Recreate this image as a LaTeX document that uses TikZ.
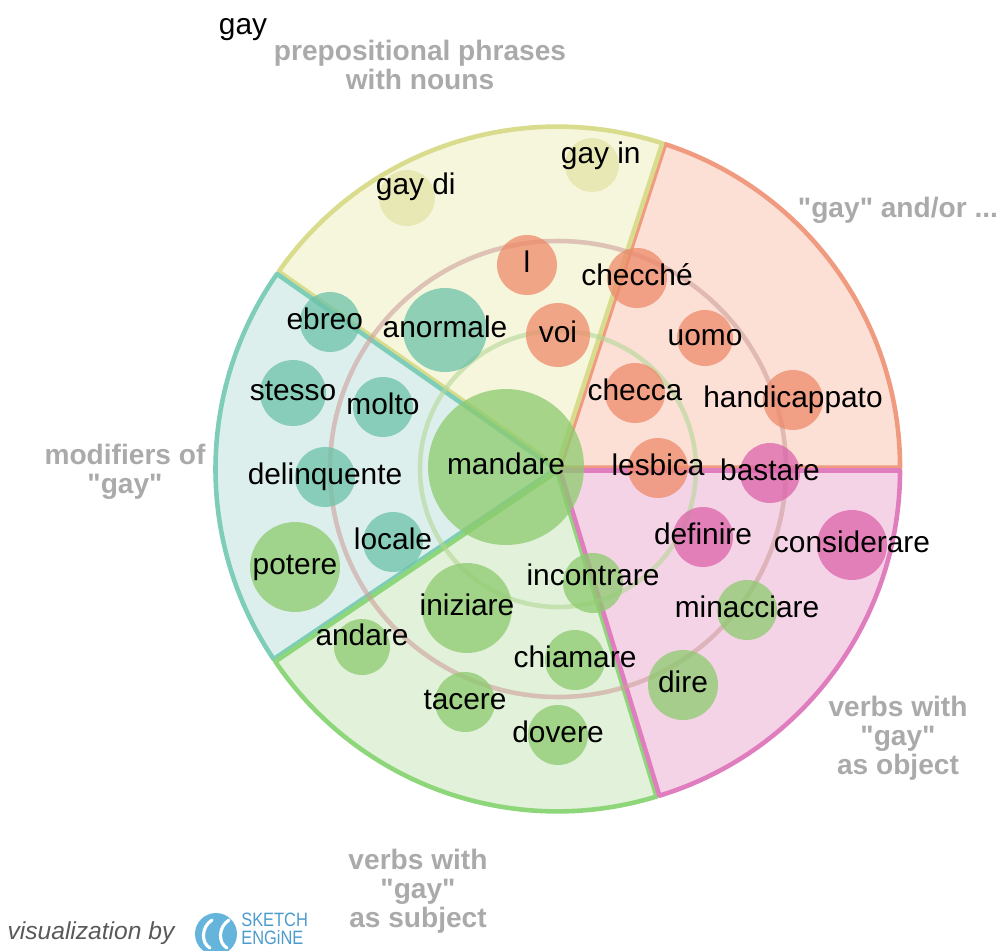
\documentclass[tikz,border=0pt]{standalone}
\usepackage{fontspec}
\setmainfont{Liberation Sans}[Ligatures=TeXOff]
\usetikzlibrary{positioning}

\definecolor{yfill}{RGB}{246,246,220}
\definecolor{yline}{RGB}{216,220,140}
\definecolor{ofill}{RGB}{252,224,214}
\definecolor{oline}{RGB}{240,155,128}
\definecolor{tfill}{RGB}{221,239,236}
\definecolor{tline}{RGB}{125,205,185}
\definecolor{gfill}{RGB}{226,241,217}
\definecolor{gline}{RGB}{142,214,122}
\definecolor{pfill}{RGB}{245,211,230}
\definecolor{pline}{RGB}{224,125,190}
\definecolor{ybub}{RGB}{228,228,168}
\definecolor{obub}{RGB}{238,138,106}
\definecolor{tbub}{RGB}{108,194,168}
\definecolor{gbub}{RGB}{140,203,110}
\definecolor{pbub}{RGB}{220,100,170}
\definecolor{outring}{RGB}{205,160,155}
\definecolor{inring}{RGB}{180,215,150}
\definecolor{catgray}{RGB}{170,170,170}
\definecolor{logoblue}{RGB}{100,180,220}
\definecolor{logotext}{RGB}{75,155,205}

\begin{document}
\begin{tikzpicture}[x=0.02cm, y=0.02cm,
  sector/.style={line width=2.6pt, line join=round},
  ring/.style={line width=2.6pt, opacity=.6},
  bubble/.style={circle, inner sep=0pt, opacity=.75},
  word/.style={font=\fontsize{17}{20}\selectfont, text height=12pt, text depth=3.5pt, inner sep=0pt},
  group/.style={font=\fontsize{16}{16.5}\selectfont\bfseries, text=catgray, align=center, inner sep=0pt}
]
\useasboundingbox (0,0) rectangle (999,-950);

% sectors and rings
\begin{scope}[shift={(558,-469)}]
\draw[sector, fill=ofill, draw=oline, shift={(36:2.5)}] (0,0) -- (0:340) arc[start angle=0, end angle=72, radius=340] -- cycle;
\draw[sector, fill=yfill, draw=yline, shift={(108:2.5)}] (0,0) -- (72:340) arc[start angle=72, end angle=145, radius=340] -- cycle;
\draw[sector, fill=tfill, draw=tline, shift={(180:2.5)}] (0,0) -- (145:340) arc[start angle=145, end angle=214, radius=340] -- cycle;
\draw[sector, fill=gfill, draw=gline, shift={(251:2.5)}] (0,0) -- (214:340) arc[start angle=214, end angle=287, radius=340] -- cycle;
\draw[sector, fill=pfill, draw=pline, shift={(323:2.5)}] (0,0) -- (287:340) arc[start angle=287, end angle=360, radius=340] -- cycle;
\draw[ring, draw=outring] (0,0) circle (228);
\draw[ring, draw=inring] (0,0) circle (138);
\end{scope}

% bubbles
\node[bubble, fill=ybub, minimum size=1.12cm] (b-gaydi) at (407,-198) {};
\node[bubble, fill=ybub, minimum size=1.08cm] (b-gayin) at (592,-165) {};
\node[bubble, fill=obub, minimum size=1.2cm] (b-l) at (527,-265) {};
\node[bubble, fill=obub, minimum size=1.2cm] (b-checche) at (637,-278) {};
\node[bubble, fill=obub, minimum size=1.28cm] (b-voi) at (558,-335) {};
\node[bubble, fill=obub, minimum size=1.12cm] (b-uomo) at (705,-338) {};
\node[bubble, fill=obub, minimum size=1.2cm] (b-checca) at (635,-393) {};
\node[bubble, fill=obub, minimum size=1.2cm] (b-handicappato) at (793,-400) {};
\node[bubble, fill=obub, minimum size=1.2cm] (b-lesbica) at (658,-468) {};
\node[bubble, fill=pbub, minimum size=1.2cm] (b-bastare) at (770,-473) {};
\node[bubble, fill=pbub, minimum size=1.2cm] (b-definire) at (703,-537) {};
\node[bubble, fill=pbub, minimum size=1.4cm] (b-considerare) at (852,-545) {};
\node[bubble, fill=gbub, minimum size=1.2cm] (b-minacciare) at (747,-610) {};
\node[bubble, fill=gbub, minimum size=1.4cm] (b-dire) at (683,-685) {};
\node[bubble, fill=gbub, minimum size=1.2cm] (b-incontrare) at (593,-583) {};
\node[bubble, fill=gbub, minimum size=1.2cm] (b-chiamare) at (575,-660) {};
\node[bubble, fill=gbub, minimum size=1.2cm] (b-dovere) at (558,-735) {};
\node[bubble, fill=gbub, minimum size=1.2cm] (b-tacere) at (465,-702) {};
\node[bubble, fill=gbub, minimum size=1.12cm] (b-andare) at (362,-647) {};
\node[bubble, fill=gbub, minimum size=1.8cm] (b-iniziare) at (467,-608) {};
\node[bubble, fill=gbub, minimum size=3.12cm] (b-mandare) at (506,-467) {};
\node[bubble, fill=gbub, minimum size=1.8cm] (b-potere) at (295,-567) {};
\node[bubble, fill=tbub, minimum size=1.68cm] (b-anormale) at (445,-330) {};
\node[bubble, fill=tbub, minimum size=1.2cm] (b-ebreo) at (330,-322) {};
\node[bubble, fill=tbub, minimum size=1.32cm] (b-stesso) at (293,-393) {};
\node[bubble, fill=tbub, minimum size=1.2cm] (b-molto) at (383,-407) {};
\node[bubble, fill=tbub, minimum size=1.2cm] (b-delinquente) at (325,-477) {};
\node[bubble, fill=tbub, minimum size=1.2cm] (b-locale) at (393,-542) {};

% words
\node[word, xshift=5, yshift=6] (w-gaydi) at (b-gaydi) {gay di};
\node[word, xshift=5, yshift=5] (w-gayin) at (b-gayin) {gay in};
\node[word] (w-l) at (b-l) {l};
\node[word] (w-checche) at (b-checche) {checché};
\node[word] (w-voi) at (b-voi) {voi};
\node[word] (w-uomo) at (b-uomo) {uomo};
\node[word] (w-checca) at (b-checca) {checca};
\node[word] (w-handicappato) at (b-handicappato) {handicappato};
\node[word] (w-lesbica) at (b-lesbica) {lesbica};
\node[word] (w-bastare) at (b-bastare) {bastare};
\node[word] (w-definire) at (b-definire) {definire};
\node[word] (w-considerare) at (b-considerare) {considerare};
\node[word] (w-minacciare) at (b-minacciare) {minacciare};
\node[word] (w-dire) at (b-dire) {dire};
\node[word, yshift=3] (w-incontrare) at (b-incontrare) {incontrare};
\node[word] (w-chiamare) at (b-chiamare) {chiamare};
\node[word] (w-dovere) at (b-dovere) {dovere};
\node[word] (w-tacere) at (b-tacere) {tacere};
\node[word, yshift=5] (w-andare) at (b-andare) {andare};
\node[word] (w-iniziare) at (b-iniziare) {iniziare};
\node[word] (w-mandare) at (b-mandare) {mandare};
\node[word] (w-potere) at (b-potere) {potere};
\node[word] (w-anormale) at (b-anormale) {anormale};
\node[word, xshift=-3] (w-ebreo) at (b-ebreo) {ebreo};
\node[word] (w-stesso) at (b-stesso) {stesso};
\node[word] (w-molto) at (b-molto) {molto};
\node[word] (w-delinquente) at (b-delinquente) {delinquente};
\node[word] (w-locale) at (b-locale) {locale};

% titles
\node[word] (title) at (243,-27) {gay};
\node[group] (g-prep) at (420,-65) {prepositional phrases\\with nouns};
\node[group] (g-andor) at (898,-210) {"gay" and/or ...};
\node[group] (g-mod) at (125,-472) {modifiers of\\"gay"};
\node[group] (g-obj) at (898,-738) {verbs with\\"gay"\\as object};
\node[group] (g-subj) at (418,-891) {verbs with\\"gay"\\as subject};

% credit
\node[font=\fontsize{14}{14}\selectfont\itshape, text=black!65, inner sep=0pt] (credit) at (91,-933) {visualization by};
\fill[logoblue] (216,-934) circle (21);
\draw[white, line width=1.8pt, line cap=round] (212,-920) .. controls (201,-927) and (201,-943) .. (210,-948);
\draw[white, line width=1.8pt, line cap=round] (229,-920) .. controls (218,-927) and (218,-943) .. (227,-948);
\node[font=\fontsize{11}{11}\selectfont, text=logotext, xscale=.85, inner sep=0pt, anchor=west] (logo-a) at (241,-920) {SKETCH};
\node[font=\fontsize{11}{11}\selectfont, text=logotext, xscale=.85, inner sep=0pt, anchor=west] (logo-b) at (241,-938) {ENGiNE};
\end{tikzpicture}
\end{document}
